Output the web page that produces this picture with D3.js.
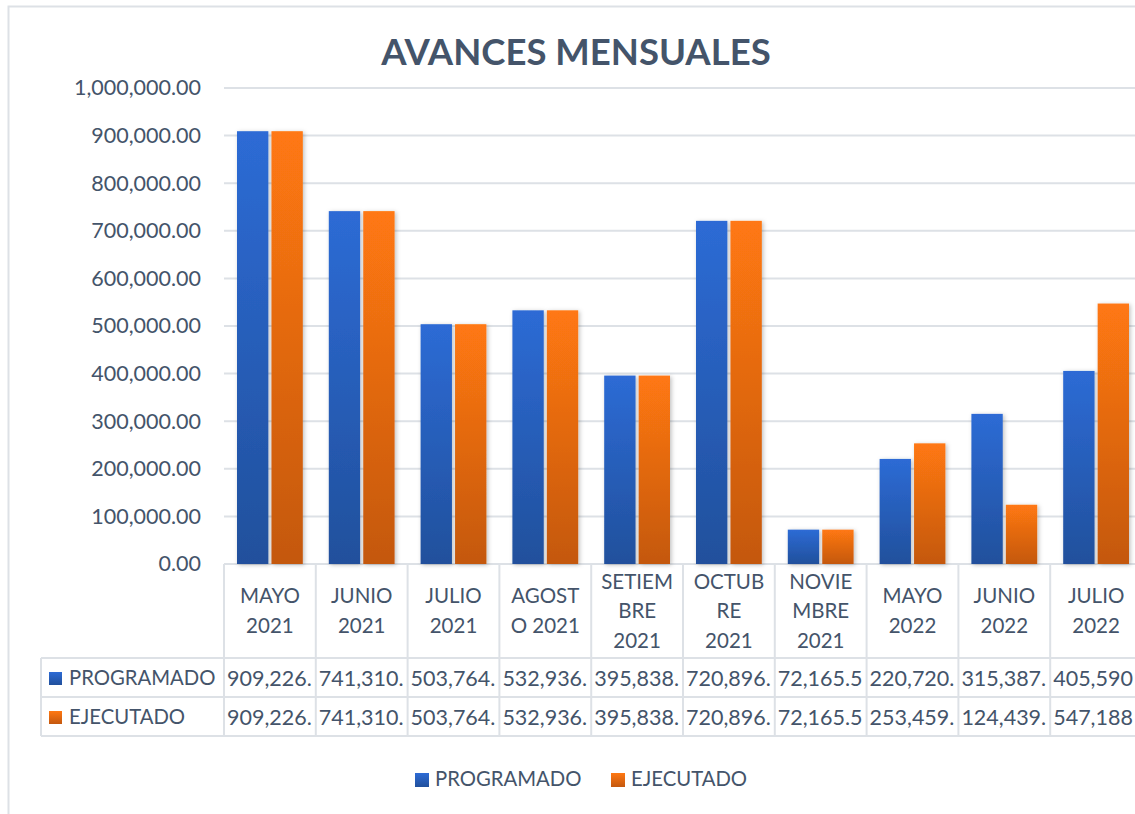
<!DOCTYPE html>
<html>
<head>
<meta charset="utf-8">
<script src="https://cdn.jsdelivr.net/npm/d3@7"></script>
<style>
  body { margin: 0; background: #fff; }
  svg { display: block; font-family: Lato, "Open Sans", sans-serif; }
</style>
</head>
<body>
<div id="chart"></div>
<script>
const width = 1135;
const height = 814;

// data
const categories = ["MAYO\n2021", "JUNIO\n2021", "JULIO\n2021", "AGOST\nO 2021", "SETIEM\nBRE\n2021",
    "OCTUB\nRE\n2021", "NOVIE\nMBRE\n2021", "MAYO\n2022", "JUNIO\n2022", "JULIO\n2022"];
const seriesNames = ["PROGRAMADO", "EJECUTADO"];
const programado = [909226, 741310, 503764, 532936, 395838, 720896, 72165.5, 220720, 315387, 405590];
const ejecutado = [909226, 741310, 503764, 532936, 395838, 720896, 72165.5, 253459, 124439, 547188];
const yTicks = [0, 100000, 200000, 300000, 400000, 500000, 600000, 700000, 800000, 900000, 1000000];

const textColor = "#44546a";
const lineColor = "#dde1e6";

const plotLeft = 224, plotRight = 1142, plotTop = 88, plotBottom = 564;
const headerBottom = 658, rowH = 39, labelLeft = 41;

const svg = d3.select("#chart").append("svg")
    .attr("width", width)
    .attr("height", height);

const defs = svg.append("defs");
const grads = [
    { id: "g-prog", top: "#2d6bd5", bottom: "#21509c" },
    { id: "g-ejec", top: "#ff7812", bottom: "#c4580f" }
];
grads.forEach(g => {
    const lg = defs.append("linearGradient").attr("id", g.id)
        .attr("x1", 0).attr("y1", 0).attr("x2", 0).attr("y2", 1);
    lg.append("stop").attr("offset", "0%").attr("stop-color", g.top);
    lg.append("stop").attr("offset", "100%").attr("stop-color", g.bottom);
});
defs.append("filter").attr("id", "shadow")
    .attr("x", "-20%").attr("y", "-5%").attr("width", "150%").attr("height", "115%")
    .append("feDropShadow")
    .attr("dx", 1.5).attr("dy", 1).attr("stdDeviation", 2)
    .attr("flood-color", "#000").attr("flood-opacity", 0.25);

// outer chart border
svg.append("rect")
    .attr("x", 8.5).attr("y", 6.5)
    .attr("width", width + 20).attr("height", height + 20)
    .attr("fill", "none").attr("stroke", lineColor).attr("stroke-width", 2);

// title
svg.append("text")
    .attr("x", 576).attr("y", 65)
    .attr("text-anchor", "middle")
    .attr("font-size", 36.5).attr("font-weight", 700)
    .attr("fill", textColor)
    .text("AVANCES MENSUALES");

const x = d3.scaleBand().domain(d3.range(categories.length)).range([plotLeft, plotRight]);
const xs = d3.scaleBand().domain([0, 1]).range([13, x.bandwidth() - 13]).paddingInner(0.09);
const y = d3.scaleLinear().domain([0, 1000000]).range([plotBottom, plotTop]);

// gridlines + y axis labels
const yAxis = svg.append("g")
    .attr("transform", `translate(${plotLeft},0)`)
    .call(d3.axisLeft(y).tickValues(yTicks).tickFormat(d3.format(",.2f")).tickSize(0).tickPadding(23));
yAxis.select(".domain").remove();
yAxis.selectAll("text").attr("font-size", 21.5).attr("fill", textColor).attr("font-family", "Lato");
svg.append("g").selectAll("line")
    .data(yTicks)
    .join("line")
    .attr("x1", plotLeft).attr("x2", plotRight)
    .attr("y1", d => y(d)).attr("y2", d => y(d))
    .attr("stroke", lineColor).attr("stroke-width", 2);

// bars
const series = [programado, ejecutado];
series.forEach((vals, s) => {
    svg.append("g")
        .attr("filter", "url(#shadow)")
        .selectAll("rect")
        .data(vals)
        .join("rect")
        .attr("x", (d, i) => x(i) + xs(s))
        .attr("width", xs.bandwidth())
        .attr("y", d => y(d))
        .attr("height", d => y(0) - y(d))
        .attr("fill", `url(#${grads[s].id})`);
});

// data table
const table = svg.append("g");
const tableBottom = headerBottom + rowH * 2;
// vertical lines of category columns
table.selectAll("line.v")
    .data(d3.range(categories.length + 1))
    .join("line")
    .attr("x1", i => (i < categories.length ? x(i) : plotRight))
    .attr("x2", i => (i < categories.length ? x(i) : plotRight))
    .attr("y1", plotBottom).attr("y2", tableBottom)
    .attr("stroke", lineColor).attr("stroke-width", 2);
// horizontal row lines
[headerBottom, headerBottom + rowH, tableBottom].forEach(yy => {
    table.append("line")
        .attr("x1", labelLeft).attr("x2", plotRight)
        .attr("y1", yy).attr("y2", yy)
        .attr("stroke", lineColor).attr("stroke-width", 2);
});
table.append("line")
    .attr("x1", labelLeft).attr("x2", labelLeft)
    .attr("y1", headerBottom).attr("y2", tableBottom)
    .attr("stroke", lineColor).attr("stroke-width", 2);

// category header labels
const lineH = 29.5;
categories.forEach((c, i) => {
    const lines = c.split("\n");
    const t = table.append("text")
        .attr("text-anchor", "middle")
        .attr("font-size", 20.5)
        .attr("fill", textColor);
    lines.forEach((ln, k) => {
        t.append("tspan")
            .attr("x", x(i) + x.bandwidth() / 2)
            .attr("y", 618 + (k - (lines.length - 1) / 2) * lineH)
            .text(ln);
    });
});

// series rows
const fmt = d3.format(",.2f");
series.forEach((vals, s) => {
    const rowTop = headerBottom + rowH * s;
    table.append("rect")
        .attr("x", 49).attr("y", rowTop + 14)
        .attr("width", 13).attr("height", 13)
        .attr("fill", `url(#${grads[s].id})`);
    table.append("text")
        .attr("x", 69).attr("y", rowTop + 27)
        .attr("font-size", 20.3).attr("fill", textColor)
        .text(seriesNames[s]);
    vals.forEach((v, i) => {
        const tx = x(i) + 3;
        const t = table.append("text")
            .attr("x", tx).attr("y", rowTop + 28)
            .attr("font-size", 21.5).attr("fill", textColor)
            .text(fmt(v));
        // cut the value like the spreadsheet does when it does not fit the cell
        // (last column is also cut by the picture edge)
        const room = Math.min(x(i) + x.bandwidth() - 2, width - 1) - tx;
        let str = fmt(v);
        while (t.node().getComputedTextLength() > room && str.length > 1) {
            str = str.slice(0, -1);
            t.text(str);
        }
    });
});

// legend
const legendItems = [{ x: 415 }, { x: 611 }];
legendItems.forEach((l, s) => {
    svg.append("rect")
        .attr("x", l.x).attr("y", 773)
        .attr("width", 14).attr("height", 14)
        .attr("fill", `url(#${grads[s].id})`);
    svg.append("text")
        .attr("x", l.x + 20).attr("y", 786)
        .attr("font-size", 20.3).attr("fill", textColor)
        .text(seriesNames[s]);
});
</script>
</body>
</html>
